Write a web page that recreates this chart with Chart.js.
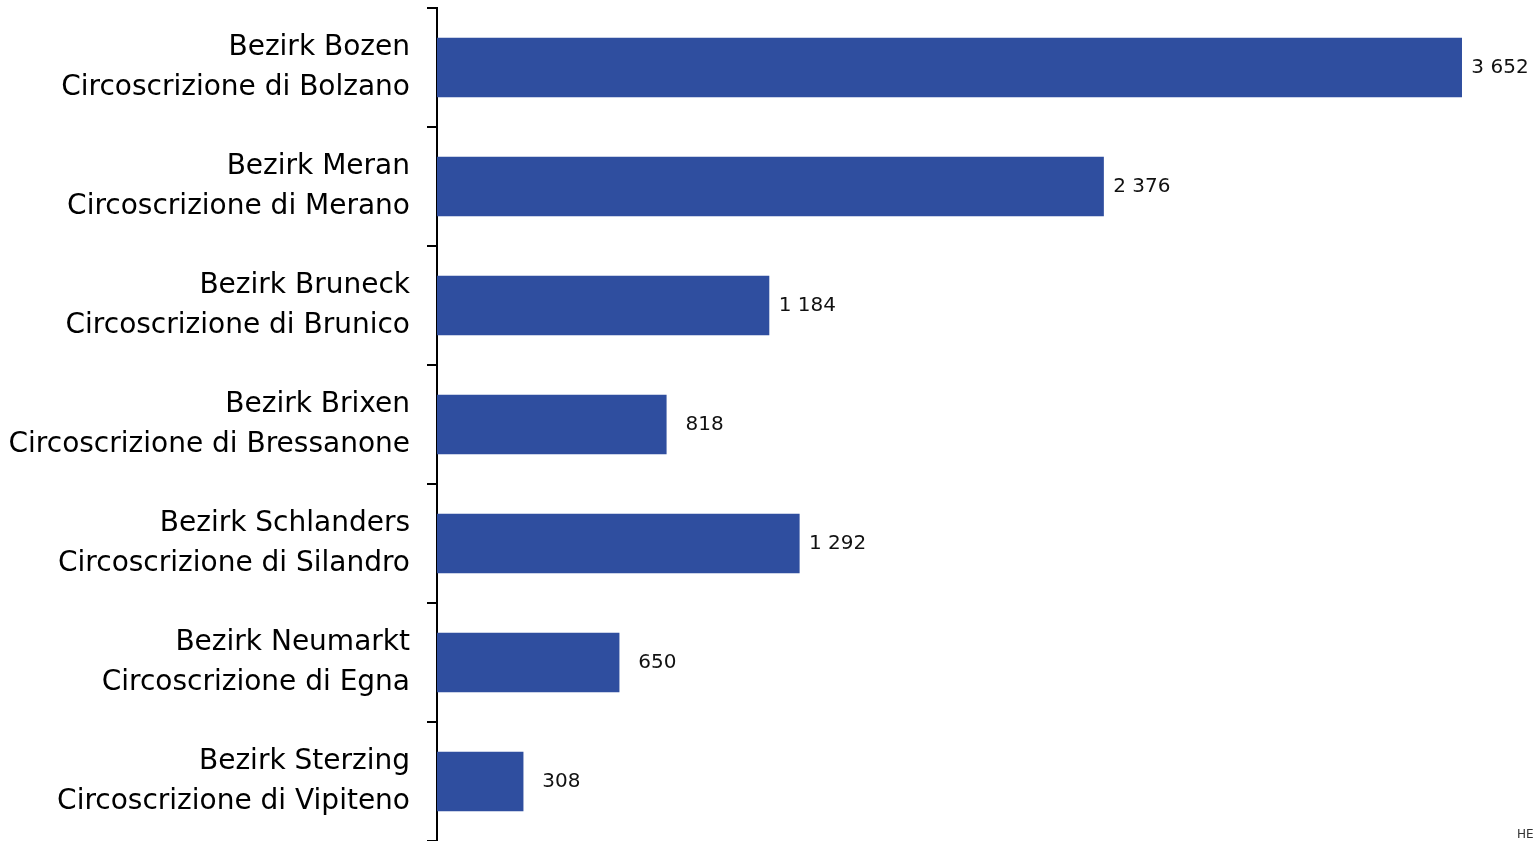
<!DOCTYPE html>
<html>
<head>
<meta charset="utf-8">
<script src="https://cdn.jsdelivr.net/npm/chart.js@4"></script>
<style>
    html, body { margin: 0; padding: 0; background: #fff; overflow: hidden; }
    #wrap { width: 1533px; height: 841px; position: relative; }
</style>
</head>
<body>
<div id="wrap"><canvas id="barChart"></canvas></div>
<script>
// Districts (German / Italian)
const districts = [
    ['Bezirk Bozen', 'Circoscrizione di Bolzano'],
    ['Bezirk Meran', 'Circoscrizione di Merano'],
    ['Bezirk Bruneck', 'Circoscrizione di Brunico'],
    ['Bezirk Brixen', 'Circoscrizione di Bressanone'],
    ['Bezirk Schlanders', 'Circoscrizione di Silandro'],
    ['Bezirk Neumarkt', 'Circoscrizione di Egna'],
    ['Bezirk Sterzing', 'Circoscrizione di Vipiteno']
];
const counts = [3652, 2376, 1184, 818, 1292, 650, 308];

const fontFamily = '"DejaVu Sans", sans-serif';

// space as thousands separator
function formatCount(v) {
    return String(v).replace(/\B(?=(\d{3})+(?!\d))/g, ' ');
}

// value labels next to each bar
const valueLabels = {
    id: 'valueLabels',
    afterDatasetsDraw(chart) {
        const ctx = chart.ctx;
        const meta = chart.getDatasetMeta(0);
        ctx.save();
        ctx.font = '20px ' + fontFamily;
        ctx.fillStyle = '#111';
        ctx.textBaseline = 'middle';
        ctx.textAlign = 'center';
        meta.data.forEach((bar, i) => {
            ctx.fillText(formatCount(counts[i]), bar.x + 38, bar.y);
        });
        // cropped source note at bottom right
        ctx.textAlign = 'left';
        ctx.font = '12px ' + fontFamily;
        ctx.fillStyle = '#333';
        ctx.fillText('HE', 1517, 835);
        ctx.restore();
    }
};

const ctx = document.getElementById('barChart').getContext('2d');
new Chart(ctx, {
    type: 'bar',
    data: {
        labels: districts,
        datasets: [{
            data: counts,
            backgroundColor: '#2f4e9f',
            categoryPercentage: 1.0,
            barPercentage: 0.5
        }]
    },
    options: {
        indexAxis: 'y',
        responsive: true,
        maintainAspectRatio: false,
        animation: false,
        layout: { padding: { top: 8, right: 0, bottom: 0, left: 0 } },
        plugins: {
            legend: { display: false },
            tooltip: { enabled: false }
        },
        scales: {
            x: {
                display: false,
                min: 0,
                max: 3905
            },
            y: {
                offset: true,
                afterFit(scale) {
                    scale.width = 437;
                    scale.paddingTop = 0;
                    scale.paddingBottom = 0;
                },
                border: { display: true, color: '#000', width: 2 },
                grid: {
                    offset: true,
                    drawOnChartArea: false,
                    drawTicks: true,
                    tickLength: 10,
                    color: '#000',
                    lineWidth: 2
                },
                ticks: {
                    padding: 17,
                    color: '#000',
                    font: { family: fontFamily, size: 28, lineHeight: 1.43 }
                }
            }
        }
    },
    plugins: [valueLabels]
});
</script>
</body>
</html>
